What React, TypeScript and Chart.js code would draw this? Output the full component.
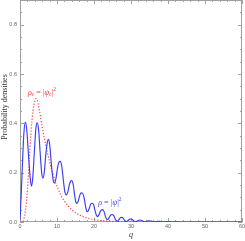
import React, { useEffect, useRef } from "react";
import { Chart, registerables } from "chart.js";

Chart.register(...registerables);

// Blue curve: rho = |psi|^2
const blueQ = [
  0, 0.35, 0.7, 1.05, 1.45, 1.85, 2.3, 2.75, 3.1, 3.45, 3.9, 4.3, 4.65, 5.05, 5.45, 5.85,
  6.2, 6.55, 6.95, 7.35, 7.7, 8.05, 8.45, 8.9, 9.3, 9.7, 10.15, 10.55, 10.9, 11.3, 11.75,
  12.15, 12.5, 12.9, 13.35, 13.7, 14.0, 14.4, 14.8, 15.1, 15.4, 15.8, 16.2, 16.6, 16.9,
  17.3, 17.7, 18.0, 18.3, 18.7, 19.1, 19.5, 19.9, 20.3, 20.7, 21.0, 21.4, 21.9, 22.3,
  22.7, 23.1, 23.45, 23.75, 24.1, 24.6, 25.0, 25.4, 25.8, 26.1, 26.4, 26.8, 27.2, 27.55,
  27.95, 28.35, 28.8, 29.2, 29.6, 30.0, 30.4, 30.85, 31.3, 31.7, 32.1, 32.5, 32.9, 33.4,
  33.8, 34.2, 34.6, 35.0, 35.4, 35.9, 36.3, 36.7, 37.1, 37.5, 37.9, 38.4, 38.8, 39.2,
  39.6, 40.0, 40.5, 41.0, 42, 43, 45, 50, 60,
];
const blueRho = [
  0.01, 0.12, 0.25, 0.36, 0.405, 0.37, 0.27, 0.18, 0.145, 0.18, 0.29, 0.38, 0.402, 0.37, 0.28, 0.2,
  0.178, 0.2, 0.27, 0.32, 0.335, 0.31, 0.24, 0.175, 0.158, 0.175, 0.22, 0.243, 0.246, 0.225, 0.165,
  0.12, 0.11, 0.12, 0.152, 0.166, 0.168, 0.15, 0.105, 0.08, 0.075, 0.088, 0.11, 0.118, 0.117,
  0.1, 0.065, 0.045, 0.042, 0.055, 0.072, 0.076, 0.07, 0.045, 0.025, 0.022, 0.032, 0.047, 0.05,
  0.043, 0.022, 0.011, 0.01, 0.018, 0.029, 0.03, 0.024, 0.01, 0.005, 0.004, 0.011, 0.018, 0.019,
  0.014, 0.005, 0.002, 0.006, 0.011, 0.012, 0.009, 0.003, 0.001, 0.004, 0.007, 0.008, 0.006, 0.0015,
  0.0005, 0.0025, 0.0045, 0.005, 0.0035, 0.001, 0.0003, 0.0015, 0.0028, 0.003, 0.002, 0.0006, 0.0002, 0.0008,
  0.0014, 0.0015, 0.0008, 0.0002, 0.0004, 0.0001, 0.0002, 0, 0,
];

// Red dotted curve: rho_c = |psi_c|^2
const redQ = [
  0, 0.5, 1.0, 1.5, 2.0, 2.5, 3.0, 3.5, 4.0, 4.3, 4.7, 5.0, 5.5, 6.0, 6.5, 7.0, 7.5, 8.0,
  8.5, 9.0, 9.5, 10.0, 10.5, 11.0, 12.0, 13.0, 14.0, 15.0, 16.0, 17.0, 18.0, 19.0, 20.0,
  22.0, 24.0, 26.0, 28.0, 32.0, 40.0, 60.0,
];
const redRho = [
  0, 0.001, 0.01, 0.05, 0.13, 0.25, 0.37, 0.45, 0.49, 0.5, 0.492, 0.47, 0.43, 0.385, 0.345, 0.31, 0.275, 0.245,
  0.215, 0.19, 0.165, 0.145, 0.127, 0.11, 0.085, 0.065, 0.05, 0.038, 0.029, 0.022, 0.017, 0.013, 0.01,
  0.006, 0.0035, 0.002, 0.001, 0.0003, 0, 0,
];

const xMin = 0;
const xMax = 60;
const yMin = 0;
const yMax = 0.9;

const serif = "'Liberation Serif', 'DejaVu Serif', serif";
const sans = "'Liberation Sans', Arial, sans-serif";

type Part = [string, boolean, number]; // text, italic, shift (0 normal, 1 sub, -1 sup)

function drawMath(ctx: CanvasRenderingContext2D, parts: Part[], cx: number, cy: number, color: string) {
  const big = 8;
  const small = 5.5;
  const fontFor = (p: Part) => `${p[1] ? "italic " : ""}${p[2] === 0 ? big : small}px ${serif}`;
  let total = 0;
  const widths = parts.map((p) => {
    ctx.font = fontFor(p);
    const w = ctx.measureText(p[0]).width;
    total += w;
    return w;
  });
  let x = cx - total / 2;
  ctx.fillStyle = color;
  ctx.textBaseline = "middle";
  ctx.textAlign = "left";
  parts.forEach((p, i) => {
    ctx.font = fontFor(p);
    const dy = p[2] === 1 ? 2 : p[2] === -1 ? -3 : 0;
    ctx.fillText(p[0], x, cy + dy);
    x += widths[i];
  });
}

const framePlugin = {
  id: "mmaFrame",
  beforeDatasetsDraw(chart: any) {
    const { ctx, chartArea: a, scales } = chart;
    const xs = scales.x;
    const ys = scales.y;
    ctx.save();
    ctx.strokeStyle = "#a0a0a0";
    ctx.lineWidth = 1;
    ctx.strokeRect(a.left + 0.5, a.top + 0.5, a.right - a.left - 1, a.bottom - a.top - 1);
    ctx.beginPath();
    for (let v = xMin; v <= xMax + 1e-9; v += 2) {
      const px = Math.round(xs.getPixelForValue(v)) + 0.5;
      const len = Math.abs(v % 10) < 1e-9 ? 4 : 2;
      ctx.moveTo(px, a.bottom);
      ctx.lineTo(px, a.bottom - len);
      ctx.moveTo(px, a.top);
      ctx.lineTo(px, a.top + len);
    }
    for (let i = 0; i <= 18; i++) {
      const v = i * 0.05;
      const py = Math.round(ys.getPixelForValue(v)) + 0.5;
      const len = i % 4 === 0 ? 4 : 2;
      ctx.moveTo(a.left, py);
      ctx.lineTo(a.left + len, py);
      ctx.moveTo(a.right, py);
      ctx.lineTo(a.right - len, py);
    }
    ctx.stroke();
    ctx.restore();
  },
  afterDraw(chart: any) {
    const { ctx, scales } = chart;
    const xs = scales.x;
    const ys = scales.y;
    ctx.save();
    // axis titles
    ctx.fillStyle = "#333";
    ctx.font = `8px ${serif}`;
    ctx.textAlign = "center";
    ctx.textBaseline = "middle";
    ctx.save();
    ctx.translate(4.8, 107);
    ctx.rotate(-Math.PI / 2);
    ctx.fillText("Probability densities", 0, 0);
    ctx.restore();
    ctx.font = `italic 8px ${serif}`;
    ctx.fillText("q", 131, 235);
    // curve labels
    drawMath(
      ctx,
      [
        ["ρ", true, 0],
        ["c", true, 1],
        [" = |", false, 0],
        ["ψ", true, 0],
        ["c", true, 1],
        ["|", false, 0],
        ["2", false, -1],
      ],
      xs.getPixelForValue(5.95),
      ys.getPixelForValue(0.523),
      "#ff3030"
    );
    drawMath(
      ctx,
      [
        ["ρ", true, 0],
        [" = |", false, 0],
        ["ψ", true, 0],
        ["|", false, 0],
        ["2", false, -1],
      ],
      xs.getPixelForValue(24.3),
      ys.getPixelForValue(0.077),
      "#4040f5"
    );
    ctx.restore();
  },
};

export default function App() {
  const ref = useRef<HTMLCanvasElement | null>(null);
  useEffect(() => {
    if (!ref.current) return;
    const chart = new Chart(ref.current, {
      type: "line",
      data: {
        datasets: [
          {
            label: "rho",
            data: blueQ.map((q, i) => ({ x: q, y: blueRho[i] })),
            borderColor: "rgb(60,60,245)",
            borderWidth: 1.15,
            pointRadius: 0,
            fill: false,
            cubicInterpolationMode: "monotone",
          },
          {
            label: "rho_c",
            data: redQ.map((q, i) => ({ x: q, y: redRho[i] })),
            borderColor: "rgba(255,40,40,0.9)",
            borderWidth: 1.2,
            borderDash: [1.2, 1.8],
            pointRadius: 0,
            fill: false,
            cubicInterpolationMode: "monotone",
          },
        ],
      },
      options: {
        animation: false,
        responsive: false,
        maintainAspectRatio: false,
        devicePixelRatio: 1,
        layout: { padding: { left: 0, top: 0, right: 3, bottom: 0 } },
        plugins: { legend: { display: false }, tooltip: { enabled: false } },
        scales: {
          x: {
            type: "linear",
            min: xMin,
            max: xMax,
            grid: { display: false, drawTicks: false },
            border: { display: false },
            ticks: {
              stepSize: 10,
              includeBounds: false,
              maxRotation: 0,
              autoSkip: false,
              padding: 1.5,
              color: "#666",
              font: { size: 5.5, family: sans },
              callback: (v: any) => String(v),
            },
            afterFit: (s: any) => {
              s.height = 19;
              s.paddingLeft = 0;
              s.paddingRight = 0;
            },
          },
          y: {
            type: "linear",
            min: yMin,
            max: yMax,
            grid: { display: false, drawTicks: false },
            border: { display: false },
            ticks: {
              stepSize: 0.2,
              includeBounds: false,
              autoSkip: false,
              padding: 3,
              color: "#666",
              font: { size: 5.5, family: sans },
              callback: (v: any) => Number(v).toFixed(1),
            },
            afterFit: (s: any) => {
              s.width = 20;
              s.paddingTop = 0;
              s.paddingBottom = 0;
            },
          },
        },
      },
      plugins: [framePlugin],
    } as any);
    return () => chart.destroy();
  }, []);
  return (
    <div style={{ position: "fixed", left: 0, top: 0, width: 245, height: 241, background: "#fff" }}>
      <canvas ref={ref} width={245} height={241} style={{ width: 245, height: 241, display: "block" }} />
    </div>
  );
}
